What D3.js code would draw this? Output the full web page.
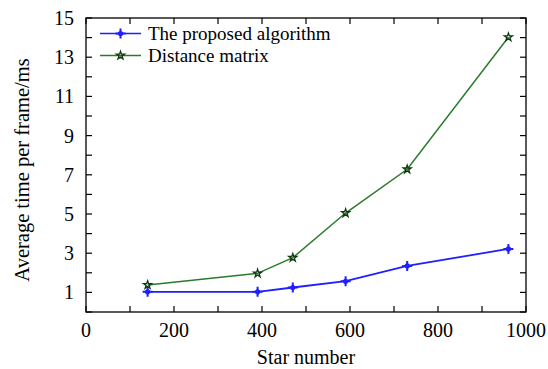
<!DOCTYPE html>
<html>
<head>
<meta charset="utf-8">
<script src="https://cdn.jsdelivr.net/npm/d3@7"></script>
<style>
  body { margin: 0; background: #fff; }
  svg { display: block; font-family: "Liberation Serif", "Times New Roman", serif; }
</style>
</head>
<body>
<svg id="chart" width="548" height="369"></svg>
<script>
// data
const starNumbers = [140, 390, 470, 590, 730, 960];
const proposedTimes = [1.03, 1.03, 1.25, 1.57, 2.35, 3.22];
const distanceTimes = [1.38, 1.97, 2.77, 5.05, 7.28, 14.02];
const yTickLabels = [1, 3, 5, 7, 9, 11, 13, 15];
const xTickLabels = [0, 200, 400, 600, 800, 1000];
const seriesNames = ['The proposed algorithm', 'Distance matrix'];

const margin = { top: 18, right: 22, bottom: 57, left: 86 };
const width = 548, height = 369;

const svg = d3.select('#chart');

const x = d3.scaleLinear().domain([0, 1000]).range([margin.left, width - margin.right]);
const y = d3.scaleLinear().domain([0, 15]).range([height - margin.bottom, margin.top]);

const series = [
    { name: seriesNames[0], values: proposedTimes, color: '#1f1fff', marker: 'plus' },
    { name: seriesNames[1], values: distanceTimes, color: '#2a7a2a', marker: 'star' }
];

// frame
svg.append('rect')
    .attr('x', x(0)).attr('y', y(15))
    .attr('width', x(1000) - x(0)).attr('height', y(0) - y(15))
    .attr('fill', 'none').attr('stroke', '#000').attr('stroke-width', 1.3);

// ticks inward on all four sides
const tickLen = 6;
const xTicks = d3.range(0, 1001, 100);
const yTicks = d3.range(0, 16, 1);
const tg = svg.append('g').attr('stroke', '#000').attr('stroke-width', 1.2);
xTicks.forEach(t => {
    tg.append('line').attr('x1', x(t)).attr('x2', x(t)).attr('y1', y(0)).attr('y2', y(0) - tickLen);
    tg.append('line').attr('x1', x(t)).attr('x2', x(t)).attr('y1', y(15)).attr('y2', y(15) + tickLen);
});
yTicks.forEach(t => {
    tg.append('line').attr('x1', x(0)).attr('x2', x(0) + tickLen).attr('y1', y(t)).attr('y2', y(t));
    tg.append('line').attr('x1', x(1000)).attr('x2', x(1000) - tickLen).attr('y1', y(t)).attr('y2', y(t));
});

// tick labels
svg.append('g').selectAll('text')
    .data(xTickLabels)
    .join('text')
    .attr('x', d => x(d))
    .attr('y', y(0) + 25)
    .attr('text-anchor', 'middle')
    .attr('font-size', 20)
    .text(d => d);

svg.append('g').selectAll('text')
    .data(yTickLabels)
    .join('text')
    .attr('x', x(0) - 12)
    .attr('y', d => y(d) + 7)
    .attr('text-anchor', 'end')
    .attr('font-size', 20)
    .text(d => d);

// axis titles
svg.append('text')
    .attr('x', (x(0) + x(1000)) / 2)
    .attr('y', 364)
    .attr('text-anchor', 'middle')
    .attr('font-size', 20)
    .text('Star number');

svg.append('text')
    .attr('transform', 'translate(29,170) rotate(-90)')
    .attr('text-anchor', 'middle')
    .attr('font-size', 20.5)
    .text('Average time per frame/ms');

// markers
const star = d3.symbol().type(d3.symbolStar).size(20);
function drawMarker(g, type, color, cx, cy) {
    if (type === 'plus') {
        g.append('path')
            .attr('d', `M${cx - 5},${cy}H${cx + 5}M${cx},${cy - 5}V${cy + 5}`)
            .attr('stroke', color).attr('stroke-width', 2);
        g.append('circle').attr('cx', cx).attr('cy', cy).attr('r', 2.6).attr('fill', color);
    } else {
        g.append('path')
            .attr('d', star())
            .attr('transform', `translate(${cx},${cy})`)
            .attr('fill', 'none')
            .attr('stroke', '#0d3a0d').attr('stroke-width', 1.3);
    }
}

const line = d3.line().x((d, i) => x(starNumbers[i])).y(d => y(d));

series.forEach(s => {
    const g = svg.append('g');
    g.append('path')
        .datum(s.values)
        .attr('d', line)
        .attr('fill', 'none')
        .attr('stroke', s.color)
        .attr('stroke-width', s.marker === 'plus' ? 1.8 : 1.5);
    s.values.forEach((v, i) => drawMarker(g, s.marker, s.color, x(starNumbers[i]), y(v)));
});

// legend
const lg = svg.append('g');
series.forEach((s, i) => {
    const ly = 33.5 + i * 22;
    lg.append('line')
        .attr('x1', 100).attr('x2', 141).attr('y1', ly).attr('y2', ly)
        .attr('stroke', s.color).attr('stroke-width', 1.5);
    drawMarker(lg, s.marker, s.color, 120.5, ly);
    lg.append('text')
        .attr('x', 148).attr('y', ly + 6)
        .attr('font-size', 19)
        .text(s.name);
});
</script>
</body>
</html>
